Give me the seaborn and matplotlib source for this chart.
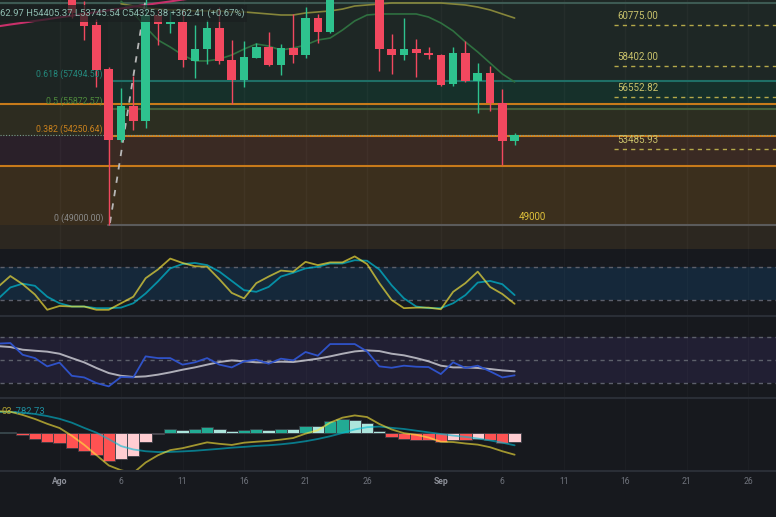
import matplotlib
matplotlib.use("Agg")
import matplotlib.pyplot as plt
from matplotlib.patches import Rectangle
from matplotlib.lines import Line2D
import numpy as np
import pandas as pd
import seaborn as sns

# ---------------- data (day index: 0 = 1 Aug) ----------------
candle_day = list(range(1, 38))
candle_open = [65300, 61500, 60800, 58200, 54020, 56020, 55140, 61390, 60860, 60980,
               58680, 59380, 60620, 58740, 57560, 58850, 59500, 58440, 59440, 59030,
               61210, 60390, 64100, 64200, 64250, 62850, 59380, 59030, 59380, 59150,
               59030, 57320, 59150, 57500, 57970, 56200, 53962.97]
candle_high = [65600, 62200, 61150, 58300, 57080, 57790, 62400, 61750, 61630, 61750,
               60800, 61100, 61860, 59920, 59860, 59740, 60390, 59680, 61450, 61860,
               61450, 64900, 64500, 64950, 64500, 63200, 60270, 61210, 59970, 59500,
               59090, 59500, 59860, 58560, 58380, 57020, 54405.37]
candle_low = [61200, 59920, 57140, 49000, 53900, 54600, 54720, 59620, 60330, 58320,
              57670, 58500, 58500, 56140, 57140, 58850, 58400, 57850, 58560, 58850,
              59740, 60300, 63600, 63600, 62800, 58090, 57910, 58740, 57730, 58790,
              57200, 57200, 57450, 55610, 55730, 52540, 53745.54]
candle_close = [61500, 60740, 58150, 54020, 56020, 55140, 61390, 60860, 60980, 58740,
                59380, 60620, 58680, 57560, 58910, 59500, 58440, 59440, 59030, 61210,
                60390, 64100, 64200, 64250, 62850, 59380, 59030, 59380, 59150, 59030,
                57260, 59150, 57500, 57970, 56200, 53960, 54325.38]

ma_day = list(range(5, 38))
ma_green = [62200, 61510, 60680, 59915, 59500, 59030, 58680, 58680, 58790, 59030,
            59380, 59680, 59560, 59320, 59440, 59620, 59915, 60030, 60500, 61040,
            61390, 61450, 61450, 61450, 61450, 61270, 60920, 60450, 59800, 59210,
            58560, 57910, 57440]
ma_olive = [62050, 61920, 61800, 61740, 61690, 61690, 61630, 61630, 61630, 61570,
            61570, 61510, 61450, 61390, 61390, 61510, 61570, 61630, 61740, 61920,
            61980, 62040, 62100, 62100, 62100, 62100, 62100, 62040, 61980, 61860,
            61690, 61450, 61210]
ma_pink_day = list(range(-5, 12))
ma_pink = [60720, 60830, 60930, 61040, 61140, 61250, 61350, 61460, 61560, 61670,
           61770, 61880, 61980, 62090, 62190, 62300, 62400]

trend_day = [4.1, 7.1]
trend_price = [49120, 62780]

fib_labels = ["0 (49000.00)", "0.382 (54250.64)", "0.5 (55872.57)", "0.618 (57494.50)"]
fib_prices = [49000.00, 54250.64, 55872.57, 57494.50]
fib_start_day = 3.94
hline_prices = [56139, 52452]
top_line_price = 62098
target_labels = ["60775.00", "58402.00", "56552.82", "53485.93"]
target_prices = [60775.00, 58402.00, 56552.82, 53485.93]
low_label = "49000"
last_price = 54325.38

ind_day = list(range(-5, 38))
stoch_k = [44, 64, 49, 30, 2, 9, 8, 8, 2, 2, 14, 26, 60, 76, 96, 88, 82, 81, 58, 33,
           23, 51, 63, 74, 72, 90, 84, 89, 89, 100, 86, 51, 20, 5, 6, 6, 3, 35, 51, 72,
           44, 31, 13]
stoch_d = [22, 43, 50, 46, 26, 14, 8, 8, 5, 5, 6, 14, 32, 54, 78, 86, 88, 84, 72, 55,
           38, 35, 44, 63, 70, 78, 81, 87, 87, 93, 92, 76, 47, 23, 8, 5, 5, 14, 29, 52,
           55, 49, 29]
rsi_vals = [64, 64.5, 54.3, 51.4, 44.2, 47.5, 36, 34.6, 29.7, 26.8, 35, 34.6, 52.9, 51.4,
            51.4, 45.7, 47.7, 51.4, 45.7, 43.3, 48.6, 50, 46.5, 50.9, 49.4, 56.7, 53.5,
            63.6, 63.6, 63.6, 57.2, 44.2, 43, 44.8, 43.9, 43.6, 37.5, 47.7, 42.8, 44.8,
            39.9, 34.6, 36.4]
rsi_ma = [61.8, 61, 58.7, 57.8, 57, 55.2, 51.4, 47.7, 42.8, 38.4, 36, 35, 35.5, 37, 39,
          41.3, 43.3, 45.7, 48, 49.4, 48.6, 47.7, 47.7, 48.3, 48, 49.4, 50.9, 52.9, 55.2,
          57.2, 58.1, 57.5, 55.2, 53.8, 51.4, 48.6, 44.8, 43.3, 43.3, 42.8, 41.9, 40.7,
          39.9]
macd_vals = [1330, 1300, 1100, 850, 550, 290, -190, -750, -1390, -2030, -2330, -2500,
             -1850, -1400, -1080, -960, -780, -600, -690, -760, -620, -560, -510, -430,
             -330, -60, 150, 620, 930, 1070, 970, 540, 200, -30, -130, -300, -560, -580,
             -670, -740, -900, -1150, -1365]
signal_vals = [1290, 1280, 1240, 1160, 1030, 860, 620, 300, 0, -400, -830, -1040, -1150,
               -1200, -1190, -1160, -1120, -1060, -1000, -930, -880, -820, -780, -720,
               -640, -530, -390, -220, -20, 200, 340, 380, 300, 230, 125, 20, -80, -180,
               -260, -360, -480, -620, -783]
hist_vals = [30, 35, -165, -370, -600, -620, -970, -1160, -1400, -1780, -1630, -1425,
             -560, -100, 230, 145, 205, 370, 250, 80, 145, 250, 165, 230, 220, 430, 400,
             700, 850, 805, 600, 100, -270, -410, -455, -470, -580, -455, -480, -370,
             -455, -640, -600]

tick_days = [0, 5, 10, 15, 20, 25, 31, 36, 41, 46, 51, 56]
tick_labels = ["Ago", "6", "11", "16", "21", "26", "Sep", "6", "11", "16", "21", "26"]
legend_text = "62.97 H54405.37 L53745.54 C54325.38 +362.41 (+0.67%)"
macd_legend = ["03", "-782.73"]

# ---------------- style ----------------
sns.set_theme(style="dark")
plt.rcParams["font.family"] = ["Roboto", "DejaVu Sans"]
BG = "#17191e"

W, H = 776, 517
XL = (-4.84, 58.25)
fig = plt.figure(figsize=(W / 100, H / 100), dpi=100)
fig.patch.set_facecolor(BG)


def add_ax(top, bottom):
    return fig.add_axes([0, 1 - bottom / H, 1, (bottom - top) / H])


ax_main = add_ax(0, 249)
ax_st = add_ax(249, 316)
ax_rsi = add_ax(316, 398)
ax_macd = add_ax(398, 471)
axes = [ax_main, ax_st, ax_rsi, ax_macd]
for ax in axes:
    ax.set_facecolor(BG)
    for s in ax.spines.values():
        s.set_visible(False)

# ---------------- main panel ----------------
ax = ax_main
ax.set_facecolor("#1e2624")
fs = (fib_start_day - XL[0]) / (XL[1] - XL[0])
top_p, bot_p = 70000, 40000
right_zones = [(fib_prices[3], top_p, "#1e2725"),
               (hline_prices[0], fib_prices[3], "#16302a"),
               (fib_prices[2], hline_prices[0], "#212f27"),
               (fib_prices[1], fib_prices[2], "#2c2e21"),
               (hline_prices[1], fib_prices[1], "#3a2a23"),
               (fib_prices[0], hline_prices[1], "#3b2f1d"),
               (bot_p, fib_prices[0], "#2c2720")]
left_zones = [(hline_prices[0], top_p, "#1d2523"),
              (fib_prices[1], hline_prices[0], "#2d2c20"),
              (hline_prices[1], fib_prices[1], "#2a2029"),
              (fib_prices[0], hline_prices[1], "#392d1d"),
              (bot_p, fib_prices[0], "#2c2720")]
for lo, hi, c in right_zones:
    ax.axhspan(lo, hi, xmin=fs, xmax=1, color=c, lw=0, zorder=0)
for lo, hi, c in left_zones:
    ax.axhspan(lo, hi, xmin=0, xmax=fs, color=c, lw=0, zorder=0)

for d in tick_days:
    ax.axvline(d, color="#ffffff", alpha=0.03, lw=1, zorder=0.5)

ax.axhline(top_line_price, color="#3d5a53", lw=1.5, zorder=1)
for p in hline_prices:
    ax.axhline(p, color="#c77a1a", lw=1.5, zorder=1)
fib_line_colors = ["#5b5b5b", "#d07f1a", "#45603a", "#1f6f66"]
for p, c in zip(fib_prices, fib_line_colors):
    ax.axhline(p, xmin=fs, xmax=1, color=c, lw=1.5, zorder=1)
ax.axhline(last_price, color="#7a9a90", lw=0.8, ls=(0, (1, 1.5)), zorder=1.2)

fib_text_colors = ["#8a8a8a", "#c8811e", "#4f8a3c", "#24887c"]
for lab, p, c in zip(fib_labels, fib_prices, fib_text_colors):
    ax.annotate(lab, (fib_start_day, p), xytext=(-5, 7), textcoords="offset pixels",
                ha="right", va="center", fontsize=6.3, color=c, zorder=6)

tgt_start = 45.08
for lab, p in zip(target_labels, target_prices):
    ax.plot([tgt_start, XL[1] + 1], [p, p], color="#b5a94a", lw=1, ls=(0, (3, 3)), zorder=1.5)
    ax.annotate(lab, (tgt_start + 0.25, p), xytext=(0, 9), textcoords="offset pixels",
                ha="left", va="center", fontsize=7, color="#c9c26b", zorder=6)
ax.annotate(low_label, (37.36, fib_prices[0]), xytext=(0, 8), textcoords="offset pixels",
            ha="left", va="center", fontsize=7, color="#e0c23a", zorder=6)

# moving averages
df_ma = pd.DataFrame({"day": ma_day, "green": ma_green, "olive": ma_olive})
df_pink = pd.DataFrame({"day": ma_pink_day, "pink": ma_pink})
sns.lineplot(data=df_ma, x="day", y="green", ax=ax, color="#2f7040", lw=1.2,
             estimator=None, zorder=2.5)
sns.lineplot(data=df_ma, x="day", y="olive", ax=ax, color="#85853a", lw=1.2,
             estimator=None, zorder=2.5)
sns.lineplot(data=df_pink, x="day", y="pink", ax=ax, color="#c8306a", lw=1.5,
             estimator=None, zorder=2.5)

# trend line
ax.plot(trend_day, trend_price, color="#b8b8b8", lw=1.3, ls=(0, (3.5, 4)), zorder=2.6)

# candles
up_c, dn_c = "#2ec28e", "#f2485f"
for d, o, h, l, c in zip(candle_day, candle_open, candle_high, candle_low, candle_close):
    col = up_c if c >= o else dn_c
    ax.vlines(d, l, h, color=col, lw=1.0, zorder=3)
    ax.bar(d, max(abs(c - o), 40), bottom=min(o, c), width=0.7, color=col, lw=0, zorder=3.1)

ax.set_ylim(47584, 62275)
ax.add_patch(Rectangle((0, 1 - 22 / 249), 247 / W, 17 / 249, transform=ax.transAxes,
                       facecolor="#1a1f20", alpha=0.72, lw=0, zorder=9))
ax.text(0.5 / W, 1 - 13.5 / 249, legend_text, transform=ax.transAxes, ha="left",
        va="center", fontsize=6.8, color="#8fbcb0", zorder=10)

# ---------------- indicator panels ----------------
df_ind = pd.DataFrame({"day": ind_day, "k": stoch_k, "d": stoch_d, "rsi": rsi_vals,
                       "rsima": rsi_ma, "macd": macd_vals, "sig": signal_vals,
                       "hist": hist_vals})

# stochastic RSI
ax = ax_st
ax.axhspan(20, 80, color="#15283a", lw=0, zorder=0)
for v in (20, 80):
    ax.axhline(v, color="#5d606b", lw=1, ls=(0, (3, 3)), zorder=1)
for d in tick_days:
    ax.axvline(d, color="#ffffff", alpha=0.025, lw=1, zorder=0.5)
sns.lineplot(data=df_ind, x="day", y="d", ax=ax, color="#00bcd4", alpha=0.7, lw=1.3,
             estimator=None, zorder=3)
sns.lineplot(data=df_ind, x="day", y="k", ax=ax, color="#ffeb3b", alpha=0.65, lw=1.3,
             estimator=None, zorder=3)
ax.set_ylim(-9.4, 113.6)

# RSI
ax = ax_rsi
ax.axhspan(30, 70, color="#211f33", lw=0, zorder=0)
for v in (30, 50, 70):
    ax.axhline(v, color="#5d606b", lw=1, ls=(0, (3, 3)), zorder=1)
for d in tick_days:
    ax.axvline(d, color="#ffffff", alpha=0.025, lw=1, zorder=0.5)
sns.lineplot(data=df_ind, x="day", y="rsima", ax=ax, color="#c8c8d0", alpha=0.85, lw=1.4,
             estimator=None, zorder=3)
sns.lineplot(data=df_ind, x="day", y="rsi", ax=ax, color="#2f52c8", lw=1.3,
             estimator=None, zorder=3.1)
ax.set_ylim(16.7, 88)

# MACD
ax = ax_macd
for d in tick_days:
    ax.axvline(d, color="#ffffff", alpha=0.025, lw=1, zorder=0.5)
hcols = []
prev = None
for v in hist_vals:
    if v >= 0:
        col = "#22ab94" if (prev is None or v > prev) else "#ace5dc"
    else:
        col = "#ffcdd2" if (prev is not None and v > prev) else "#ff5252"
    hcols.append(col)
    prev = v
ax.bar(ind_day, hist_vals, width=1.0, color=hcols, edgecolor="#3a3d45", lw=0.6, zorder=2)
sns.lineplot(data=df_ind, x="day", y="sig", ax=ax, color="#00bcd4", alpha=0.6, lw=1.3,
             estimator=None, zorder=3)
sns.lineplot(data=df_ind, x="day", y="macd", ax=ax, color="#ffeb3b", alpha=0.6, lw=1.3,
             estimator=None, zorder=3)
ax.set_ylim(-2375, 2150)
ax.text(1 / W, 1 - 13 / 73, macd_legend[0], transform=ax.transAxes, ha="left",
        va="center", fontsize=6.8, color="#b0a030", zorder=10)
ax.text(14 / W, 1 - 13 / 73, macd_legend[1], transform=ax.transAxes, ha="left",
        va="center", fontsize=6.8, color="#1e8fa0", zorder=10)

for ax in axes:
    ax.set_xlim(*XL)
    ax.set_yticks([])
    ax.set_xlabel("")
    ax.set_ylabel("")
    ax.grid(False)
    ax.set_xticks(tick_days)
    ax.tick_params(axis="x", length=0, labelbottom=False)

ax_macd.set_xticks(tick_days)
ax_macd.set_xticklabels(tick_labels)
ax_macd.tick_params(axis="x", length=0, pad=4.5, labelsize=6.2, labelcolor="#6f737c",
                    labelbottom=True)
for t in ax_macd.get_xticklabels():
    if t.get_text() in ("Ago", "Sep"):
        t.set_fontweight("bold")
        t.set_color("#8d9099")

for ypx in (316, 398, 471):
    fig.add_artist(Line2D([0, 1], [1 - ypx / H, 1 - ypx / H], transform=fig.transFigure,
                          color="#2a2e36", lw=1.5))

fig.savefig("out.png", dpi=100, facecolor=fig.get_facecolor())
